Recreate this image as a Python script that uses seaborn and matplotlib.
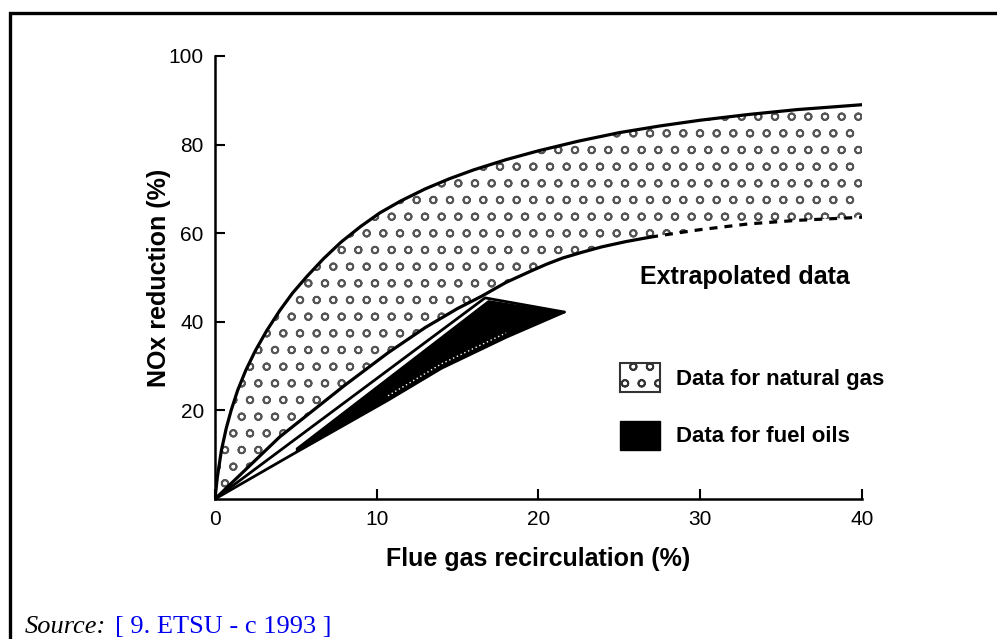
import matplotlib
matplotlib.use('Agg')
import matplotlib.pyplot as plt
from matplotlib.patches import Patch, Rectangle
import seaborn as sns
import pandas as pd

# --- data ---
gas_upper_x = [0, 0.15, 0.4, 0.7, 1.0, 1.4, 1.9, 2.5, 3.2, 4.0, 4.8, 5.7, 6.7, 7.8,
               9.0, 10.2, 11.5, 13, 14.5, 16, 18, 20, 22.5, 25, 27.5, 30, 33, 36, 40]
gas_upper_y = [0, 5, 11, 16, 20, 24.5, 29, 33.5, 38, 42.5, 46.5, 50.3, 54.2, 58,
               61.5, 64.6, 67.3, 70, 72.3, 74.3, 76.6, 78.6, 80.8, 82.7, 84.2, 85.5,
               86.8, 87.9, 89]

gas_lower_x = [0, 2, 4, 6, 8, 10.7, 13, 15, 16.5, 18, 19.5, 20.5, 21.5, 22.7, 23.9,
               25.4, 26.9]
gas_lower_y = [0, 7, 14, 19.8, 25.6, 33, 38.7, 43, 45.8, 48.9, 51.4, 53, 54.4, 55.7,
               56.9, 58.1, 59.1]

# extrapolated part (dashed)
extrap_x = [26.9, 28.5, 30, 33, 36, 40]
extrap_y = [59.1, 60, 60.8, 62.1, 62.9, 63.6]

oil_top_x = [0, 16.7, 21.6]
oil_top_y = [0, 45.4, 42.2]
oil_low_x = [0, 5, 10.7, 14, 18, 21.6]
oil_low_y = [0, 10.5, 22.3, 29.5, 36.5, 42.2]

oil_fill_x = [5, 16.9, 21.6, 18, 14, 10.7, 5]
oil_fill_y = [11.5, 44.9, 42.2, 36.5, 29.5, 22.3, 10.6]

x_ticks = [0, 10, 20, 30, 40]
y_ticks = [20, 40, 60, 80, 100]

sns.set_theme(style='white')
plt.rcParams['font.family'] = ['Liberation Sans', 'DejaVu Sans']
plt.rcParams['hatch.linewidth'] = 1.3
plt.rcParams['text.color'] = 'black'
plt.rcParams['axes.labelcolor'] = 'black'

fig = plt.figure(figsize=(9.97, 6.39), dpi=100)
ax = fig.add_axes([0.2156, 0.2191, 0.649, 0.6933])

# natural gas band (dotted)
band_x = gas_upper_x + (extrap_x[::-1] + gas_lower_x[::-1])
band_y = gas_upper_y + (extrap_y[::-1] + gas_lower_y[::-1])
ax.fill(band_x, band_y, facecolor='white', edgecolor='#555555', hatch='o', linewidth=0)

# fuel oil region
ax.fill(oil_fill_x, oil_fill_y, color='black', linewidth=0)

line_kw = dict(color='black', sort=False, estimator=None, legend=False)
sns.lineplot(x=gas_upper_x, y=gas_upper_y, ax=ax, linewidth=2.3, **line_kw)
sns.lineplot(x=gas_lower_x, y=gas_lower_y, ax=ax, linewidth=2.3, **line_kw)
sns.lineplot(x=extrap_x, y=extrap_y, ax=ax, linewidth=2.3, linestyle=(0, (2.5, 2.2)), **line_kw)
sns.lineplot(x=oil_top_x, y=oil_top_y, ax=ax, linewidth=2.0, **line_kw)
sns.lineplot(x=oil_low_x, y=oil_low_y, ax=ax, linewidth=2.0, **line_kw)
low_df = pd.DataFrame({'x': oil_low_x, 'y': oil_low_y})
ax.plot(low_df['x'][2:-1], low_df['y'][2:-1] + 1.0, color='white', linewidth=1,
        linestyle=(0, (1, 2)))

ax.set_xlim(0, 40)
ax.set_ylim(0, 100)
ax.set_xticks(x_ticks)
ax.set_yticks(y_ticks)
ax.tick_params(direction='in', length=7, width=1.5, labelsize=15, pad=8,
               color='black', labelcolor='black', left=True, bottom=True)
for s in ['top', 'right']:
    ax.spines[s].set_visible(False)
for s in ['left', 'bottom']:
    ax.spines[s].set_linewidth(1.8)
    ax.spines[s].set_color('black')

ax.set_xlabel('Flue gas recirculation (%)', fontsize=18, fontweight='bold', labelpad=13)
ax.set_ylabel('NOx reduction (%)', fontsize=18, fontweight='bold', labelpad=-2)

ax.text(26.3, 50.1, 'Extrapolated data', fontsize=18, fontweight='bold', va='center')

handles = [Patch(facecolor='white', edgecolor='#333333', hatch='o', linewidth=1.5),
           Patch(facecolor='black', edgecolor='black')]
ax.legend(handles, ['Data for natural gas', 'Data for fuel oils'],
          loc='upper left', bbox_to_anchor=(0.626, 0.307), frameon=False,
          prop={'size': 16, 'weight': 'bold'}, handlelength=1.8, handleheight=1.62,
          handletextpad=0.7, labelspacing=1.3, borderpad=0, borderaxespad=0)

# outer frame and source line
fig.add_artist(Rectangle((0.0105, -0.1), 1.2, 1.0797, transform=fig.transFigure,
                         fill=False, edgecolor='black', linewidth=2.4))
fig.text(0.025, 0.001, 'Source:', fontsize=19, style='italic', family='Liberation Serif',
         va='bottom')
fig.text(0.1154, 0.001, '[ 9. ETSU - c 1993 ]', fontsize=19, family='Liberation Serif',
         color='#0000ee', va='bottom')

fig.savefig('out.png', dpi=100)
